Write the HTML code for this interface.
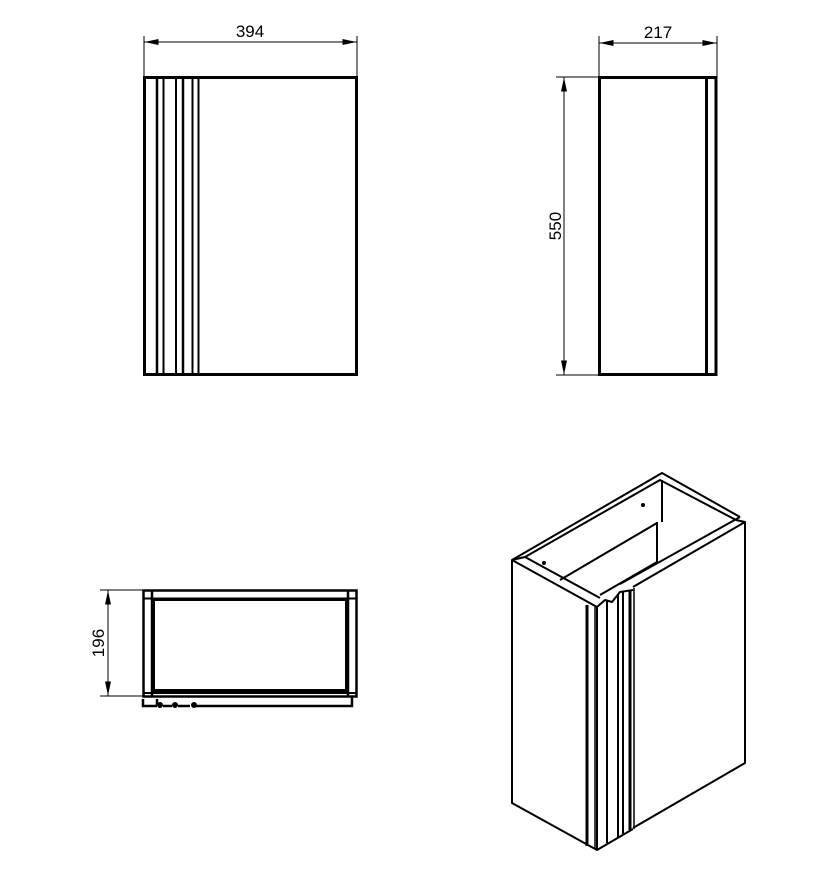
<!DOCTYPE html>
<html><head><meta charset="utf-8"><style>
html,body{margin:0;padding:0;background:#fff;width:830px;height:871px;overflow:hidden}
svg{display:block}
text{font-family:"Liberation Sans",sans-serif;font-size:17px;fill:#000}
</style></head><body>
<svg width="830" height="871" viewBox="0 0 830 871" xmlns="http://www.w3.org/2000/svg">
<defs>
<marker id="a" markerWidth="14" markerHeight="6" refX="14" refY="3" orient="auto" markerUnits="userSpaceOnUse">
<path d="M0,0 L14,3 L0,6 z" fill="#000"/></marker>
</defs>
<g stroke="#000" fill="none">
<!-- Front view -->
<line x1="144" y1="36" x2="144" y2="76" stroke-width="1"/>
<line x1="357" y1="36" x2="357" y2="76" stroke-width="1"/>
<line x1="250" y1="42" x2="144.5" y2="42" stroke-width="1" marker-end="url(#a)"/>
<line x1="250" y1="42" x2="356.5" y2="42" stroke-width="1" marker-end="url(#a)"/>
<rect x="144.5" y="77.5" width="212" height="297" stroke-width="3"/>
<line x1="157" y1="77" x2="157" y2="375" stroke-width="2.5"/>
<line x1="163.5" y1="77" x2="163.5" y2="375" stroke-width="2"/>
<line x1="176" y1="77" x2="176" y2="375" stroke-width="2"/>
<line x1="183" y1="77" x2="183" y2="375" stroke-width="2.5"/>
<line x1="192.5" y1="77" x2="192.5" y2="375" stroke-width="2"/>
<line x1="198.5" y1="77" x2="198.5" y2="375" stroke-width="2"/>

<!-- Side view -->
<line x1="599" y1="36" x2="599" y2="76" stroke-width="1"/>
<line x1="717" y1="36" x2="717" y2="76" stroke-width="1"/>
<line x1="658" y1="43" x2="599.5" y2="43" stroke-width="1" marker-end="url(#a)"/>
<line x1="658" y1="43" x2="716.5" y2="43" stroke-width="1" marker-end="url(#a)"/>
<line x1="556" y1="77" x2="599" y2="77" stroke-width="1"/>
<line x1="556" y1="375" x2="599" y2="375" stroke-width="1"/>
<line x1="564" y1="226" x2="564" y2="77.5" stroke-width="1" marker-end="url(#a)"/>
<line x1="564" y1="226" x2="564" y2="374.5" stroke-width="1" marker-end="url(#a)"/>
<rect x="599.5" y="77.5" width="107" height="297" stroke-width="3"/>
<path d="M706.5,77.5 H716 V374.5 H706.5" stroke-width="3"/>

<!-- Top view -->
<line x1="100" y1="590" x2="143" y2="590" stroke-width="1"/>
<line x1="100" y1="696" x2="143" y2="696" stroke-width="1"/>
<line x1="108" y1="643" x2="108" y2="590.5" stroke-width="1" marker-end="url(#a)"/>
<line x1="108" y1="643" x2="108" y2="695.5" stroke-width="1" marker-end="url(#a)"/>
<rect x="143.5" y="590.5" width="213" height="106" stroke-width="2.5"/>
<line x1="152" y1="590" x2="152" y2="696" stroke-width="2.5"/>
<line x1="348" y1="590" x2="348" y2="696" stroke-width="2.5"/>
<line x1="143" y1="598.5" x2="357" y2="598.5" stroke-width="2"/>
<rect x="153.5" y="599.5" width="193" height="91" stroke-width="3"/>
<line x1="143" y1="693" x2="357" y2="693" stroke-width="2"/>
<path d="M143,699 V706 H157 M157,699 V706 M163,706 H172 M178,706 H190 M196,706 H352 V697" stroke-width="2.5"/>
<circle cx="160" cy="705" r="2.5" fill="#000"/>
<circle cx="175" cy="705" r="2.5" fill="#000"/>
<circle cx="194" cy="705" r="2.5" fill="#000"/>

<!-- 3D view -->
<g stroke-width="2" stroke-linejoin="round">
<path d="M512,560 L662,473 L740,517"/>
<path d="M525,557 L660,480 L736,520"/>
<path d="M512,560 L597,607 L597,850 L512,803 Z"/>
<path d="M512,560 L525,557"/>
<path d="M525,557 L600,598"/>
<path d="M662,480 V522"/>
<path d="M657,522 V562"/>
<path d="M657,523 L560,580"/>
<path d="M657,562 L600,595"/>
<path d="M736,520 L745,522 L745,763 L633,828"/>
<path d="M740,517 L620,584"/>
<path d="M745,522 L633,587"/>
<path d="M597,850 L633,829"/>
<path d="M597,607 L605,600 L612,602 L620,592 L633,590"/>
</g>
<line x1="587" y1="605" x2="587" y2="846" stroke-width="3"/>
<line x1="595" y1="607" x2="595" y2="849" stroke-width="1.5"/>
<line x1="607" y1="600" x2="607" y2="843" stroke-width="2"/>
<line x1="618" y1="594" x2="618" y2="837" stroke-width="2"/>
<line x1="623" y1="592" x2="623" y2="834" stroke-width="2"/>
<line x1="630" y1="590" x2="630" y2="830" stroke-width="3"/>
<line x1="634" y1="588" x2="634" y2="829" stroke-width="1.5"/>
<circle cx="544" cy="563" r="1.5" fill="#000"/>
<circle cx="643" cy="505" r="1.5" fill="#000"/>
</g>
<text x="250" y="37" text-anchor="middle">394</text>
<text x="658" y="38" text-anchor="middle">217</text>
<text transform="translate(561,226) rotate(-90)" text-anchor="middle">550</text>
<text transform="translate(104,643) rotate(-90)" text-anchor="middle">196</text>
</svg>
</body></html>
